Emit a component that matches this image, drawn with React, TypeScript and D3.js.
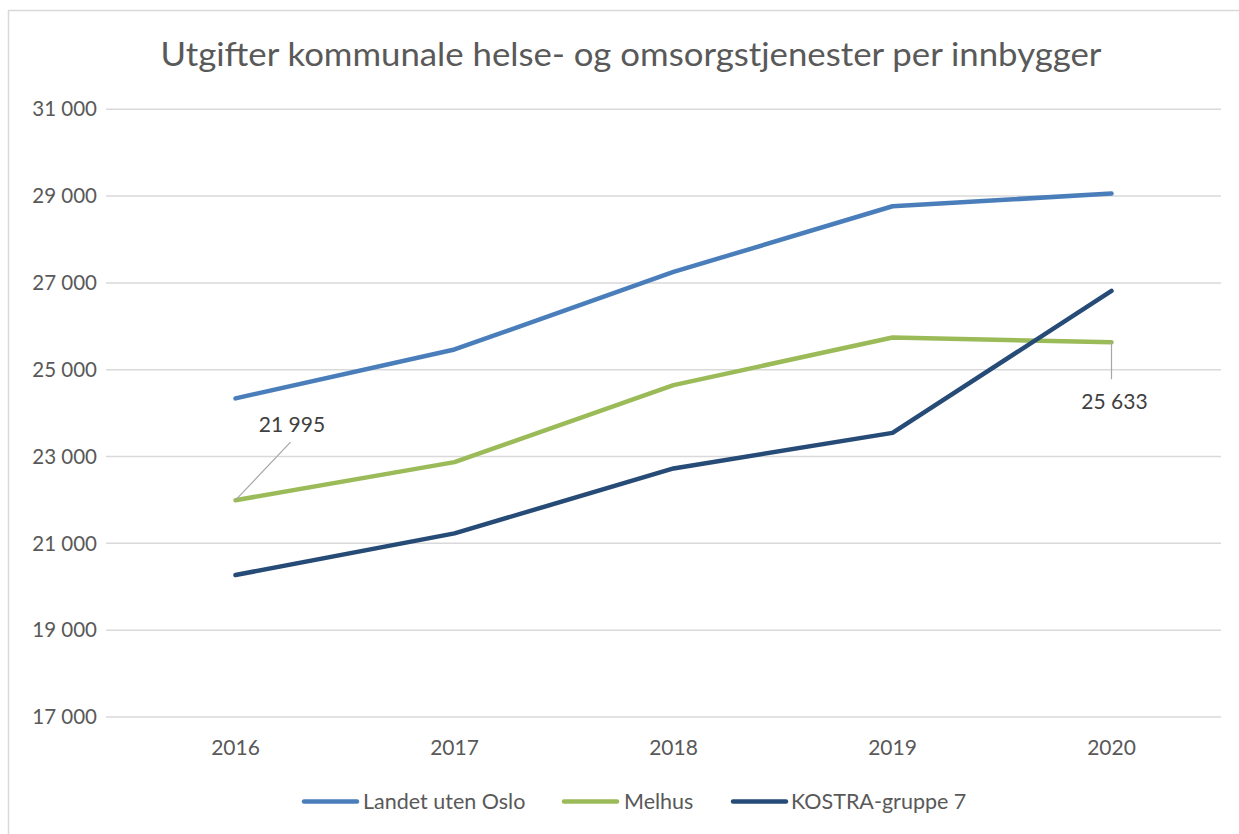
import React from 'react';
import * as d3 from 'd3';

// chart data
const years = ['2016', '2017', '2018', '2019', '2020'];
const landet = [24340, 25467, 27253, 28766, 29058];
const melhus = [21995, 22871, 24645, 25743, 25633];
const kostra = [20270, 21230, 22726, 23546, 26815];
const yTicks = [17000, 19000, 21000, 23000, 25000, 27000, 29000, 31000];
const seriesNames = ['Landet uten Oslo', 'Melhus', 'KOSTRA-gruppe 7'];
const colors = ['#4a7ebb', '#9bbb59', '#264b77'];

const width = 1239;
const height = 834;
const plot = { left: 126, right: 1221, top: 109.3, bottom: 717 };
const font = 'Lato, "Open Sans", sans-serif';

const fmt = (v: number) => d3.format(',')(v).replace(/,/g, ' ');

export default function App() {
  const x = d3.scalePoint<string>().domain(years).range([plot.left, plot.right]).padding(0.5);
  const y = d3.scaleLinear().domain([17000, 31000]).range([plot.bottom, plot.top]);

  const line = d3.line<number>()
    .x((_, i) => x(years[i]) as number)
    .y(d => y(d));

  const series = [landet, melhus, kostra];

  // data label anchors (Melhus first and last point)
  const m0x = x(years[0]) as number, m0y = y(melhus[0]);
  const m4x = x(years[4]) as number, m4y = y(melhus[4]);

  // legend layout
  const legend = [
    { lx: 304, tx: 363 },
    { lx: 564, tx: 624 },
    { lx: 733, tx: 791 },
  ];

  return (
    <svg width={width} height={height} style={{ position: 'absolute', left: 0, top: 0 }}>
      <rect x={0} y={0} width={width} height={height} fill="#fff" />
      <rect x={8.5} y={10.5} width={1300} height={900} fill="none" stroke="#d9d9d9" strokeWidth={1.5} />

      <text x={631} y={66} textAnchor="middle" fontFamily={font} fontSize={33} fill="#595959"
        textLength={941} lengthAdjust="spacingAndGlyphs">
        Utgifter kommunale helse- og omsorgstjenester per innbygger
      </text>

      {/* grid + y labels */}
      {yTicks.map(t => (
        <g key={t}>
          <line x1={plot.left - 20} x2={plot.right} y1={y(t)} y2={y(t)} stroke="#d9d9d9" strokeWidth={1.5} />
          <text x={97} y={y(t)} dy="0.35em" textAnchor="end" fontFamily={font} fontSize={20.5} fill="#595959">
            {fmt(t)}
          </text>
        </g>
      ))}

      {/* x labels */}
      {years.map(yr => (
        <text key={yr} x={x(yr)} y={755} textAnchor="middle" fontFamily={font} fontSize={21} fill="#595959">
          {yr}
        </text>
      ))}

      {/* lines */}
      {series.map((s, i) => (
        <path key={i} d={line(s) as string} fill="none" stroke={colors[i]} strokeWidth={4.5}
          strokeLinecap="round" strokeLinejoin="round" />
      ))}

      {/* data labels */}
      <line x1={m0x} y1={m0y} x2={m0x + 55} y2={m0y - 58} stroke="#a6a6a6" strokeWidth={1.2} />
      <text x={292} y={432} textAnchor="middle" fontFamily={font} fontSize={21} fill="#404040">
        {fmt(melhus[0])}
      </text>
      <line x1={m4x} y1={m4y} x2={m4x} y2={m4y + 37} stroke="#a6a6a6" strokeWidth={1.2} />
      <text x={m4x + 3} y={409} textAnchor="middle" fontFamily={font} fontSize={21} fill="#404040">
        {fmt(melhus[4])}
      </text>

      {/* legend */}
      {seriesNames.map((n, i) => (
        <g key={n}>
          <line x1={legend[i].lx} x2={legend[i].lx + 53} y1={801.5} y2={801.5} stroke={colors[i]}
            strokeWidth={4.5} strokeLinecap="round" />
          <text x={legend[i].tx} y={801.5} dy="0.35em" fontFamily={font} fontSize={21.5} fill="#595959">
            {n}
          </text>
        </g>
      ))}
    </svg>
  );
}
